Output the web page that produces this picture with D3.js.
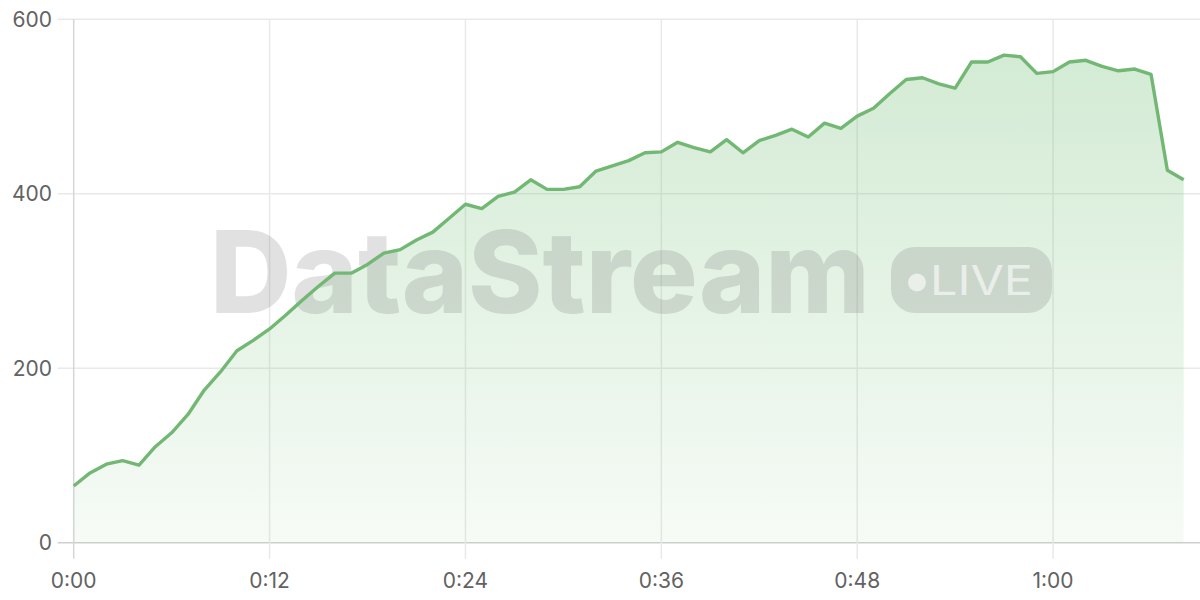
<!DOCTYPE html>
<html>
<head>
<meta charset="utf-8">
<script src="https://cdn.jsdelivr.net/npm/d3@7"></script>
<style>
  html, body { margin: 0; padding: 0; background: #fff; }
  svg { display: block; }
</style>
</head>
<body>
<div id="chart"></div>
<script>
// minutes since start
var minutes = [0, 1, 2, 3, 4, 5, 6, 7, 8, 9, 10, 11, 12, 13, 14, 15, 16, 17, 18, 19,
  20, 21, 22, 23, 24, 25, 26, 27, 28, 29, 30, 31, 32, 33, 34, 35, 36, 37, 38, 39,
  40, 41, 42, 43, 44, 45, 46, 47, 48, 49, 50, 51, 52, 53, 54, 55, 56, 57, 58, 59,
  60, 61, 62, 63, 64, 65, 66, 67, 68];

var values = [65, 80, 90, 94, 89, 110, 126, 147, 175, 196, 220, 232, 245, 261, 278, 294, 309, 309, 319, 332,
  336, 347, 356, 372, 388, 383, 397, 402, 416, 405, 405, 408, 426, 432, 438, 447, 448, 459, 453, 448,
  462, 447, 461, 467, 474, 465, 481, 475, 489, 498, 515, 531, 533, 526, 521, 551, 551, 559, 557, 538,
  540, 551, 553, 546, 541, 543, 537, 427, 416];

var xTicks = [0, 12, 24, 36, 48, 60];
var xTickLabels = ['0:00', '0:12', '0:24', '0:36', '0:48', '1:00'];
var yTicks = [0, 200, 400, 600];

(function() {

  var width = 1200, height = 600;
  var plotLeft = 73.7, plotRight = 1200, plotTop = 19.3, plotBottom = 542.7;

  var data = minutes.map(function(m, i) { return { m: m, v: values[i] }; });

  var x = d3.scaleLinear().domain([0, 69]).range([plotLeft, plotRight]);
  var y = d3.scaleLinear().domain([0, 600]).range([plotBottom, plotTop]);

  var svg = d3.select('#chart')
              .append('svg')
              .attr('width', width)
              .attr('height', height);

  var grad = svg.append('defs')
                .append('linearGradient')
                .attr('id', 'areaFill')
                .attr('x1', 0).attr('y1', 0)
                .attr('x2', 0).attr('y2', 1);
  grad.append('stop').attr('offset', '0%').attr('stop-color', '#6cbb6f').attr('stop-opacity', 0.3);
  grad.append('stop').attr('offset', '100%').attr('stop-color', '#6cbb6f').attr('stop-opacity', 0.06);

  // grid
  svg.append('g')
     .selectAll('line')
     .data(yTicks)
     .join('line')
     .attr('x1', plotLeft - 16)
     .attr('x2', plotRight)
     .attr('y1', function(d) { return y(d); })
     .attr('y2', function(d) { return y(d); })
     .attr('stroke', function(d) { return d === 0 ? '#cfcfcf' : '#e9e9e9'; })
     .attr('stroke-width', 1.5);

  svg.append('g')
     .selectAll('line')
     .data(xTicks)
     .join('line')
     .attr('x1', function(d) { return x(d); })
     .attr('x2', function(d) { return x(d); })
     .attr('y1', plotTop)
     .attr('y2', plotBottom + 16)
     .attr('stroke', function(d) { return d === 0 ? '#d6d6d6' : '#e9e9e9'; })
     .attr('stroke-width', 1.5);

  // area
  var area = d3.area()
               .x(function(d) { return x(d.m); })
               .y0(y(0))
               .y1(function(d) { return y(d.v); });

  svg.append('path')
     .datum(data)
     .attr('d', area)
     .attr('fill', 'url(#areaFill)');

  // watermark
  var wm = svg.append('g').attr('class', 'watermark');
  wm.append('text')
    .attr('x', 210)
    .attr('y', 313)
    .attr('textLength', 660)
    .attr('lengthAdjust', 'spacingAndGlyphs')
    .style('font-family', 'Inter, "Noto Sans", sans-serif')
    .style('font-weight', 800)
    .style('font-size', '114px')
    .attr('fill', '#6f6f6f')
    .attr('fill-opacity', 0.21)
    .text('DataStream');

  wm.append('rect')
    .attr('x', 891)
    .attr('y', 247)
    .attr('width', 161)
    .attr('height', 66)
    .attr('rx', 24)
    .attr('fill', '#6f6f6f')
    .attr('fill-opacity', 0.21);

  wm.append('circle')
    .attr('cx', 917)
    .attr('cy', 282.5)
    .attr('r', 9)
    .attr('fill', '#fff')
    .attr('fill-opacity', 0.6);

  wm.append('text')
    .attr('x', 930)
    .attr('y', 295)
    .attr('textLength', 103)
    .attr('lengthAdjust', 'spacingAndGlyphs')
    .style('font-family', 'Inter, "Noto Sans", sans-serif')
    .style('font-weight', 400)
    .style('font-size', '41px')
    .attr('fill', '#fff')
    .attr('fill-opacity', 0.6)
    .text('LIVE');

  // line
  var line = d3.line()
               .x(function(d) { return x(d.m); })
               .y(function(d) { return y(d.v); });

  svg.append('path')
     .datum(data)
     .attr('d', line)
     .attr('fill', 'none')
     .attr('stroke', '#72b874')
     .attr('stroke-width', 3.4)
     .attr('stroke-linejoin', 'round');

  // labels
  svg.append('g')
     .selectAll('text')
     .data(yTicks)
     .join('text')
     .attr('x', 52)
     .attr('y', function(d) { return y(d); })
     .attr('dy', '0.35em')
     .attr('text-anchor', 'end')
     .style('font-family', 'Inter, "Noto Sans", sans-serif')
     .style('font-size', '21px')
     .attr('fill', '#626262')
     .text(function(d) { return d; });

  svg.append('g')
     .selectAll('text')
     .data(xTicks)
     .join('text')
     .attr('x', function(d) { return x(d); })
     .attr('y', 588)
     .attr('text-anchor', 'middle')
     .style('font-family', 'Inter, "Noto Sans", sans-serif')
     .style('font-size', '21px')
     .attr('fill', '#626262')
     .text(function(d, i) { return xTickLabels[i]; });

})();
</script>
</body>
</html>
